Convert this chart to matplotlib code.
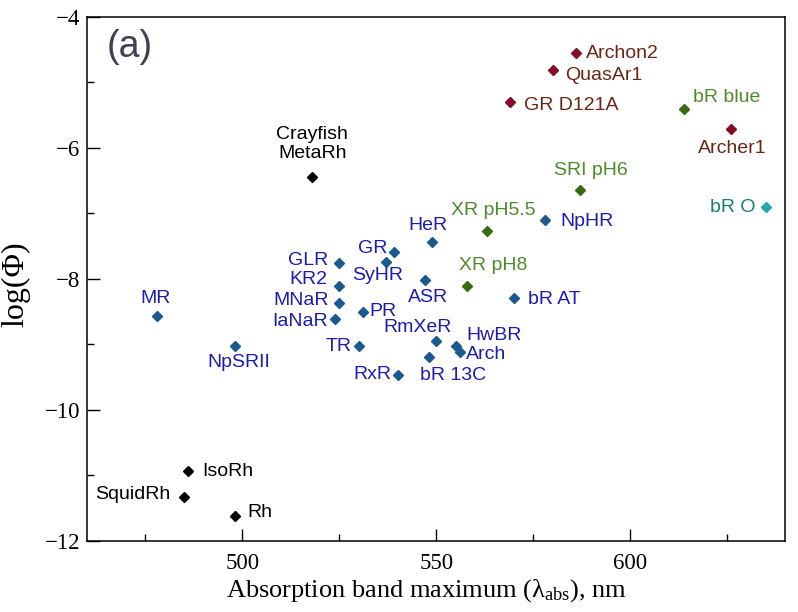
import matplotlib
matplotlib.use("Agg")
import matplotlib.pyplot as plt
from matplotlib.ticker import MultipleLocator

plt.rcParams['mathtext.fontset'] = 'custom'
plt.rcParams['mathtext.rm'] = 'Liberation Serif'
plt.rcParams['mathtext.it'] = 'Liberation Serif:italic'

# ---- data ----
names = ["Archon2", "QuasAr1", "GR D121A", "Archer1",
         "bR blue", "SRI pH6", "XR pH5.5", "XR pH8",
         "bR O",
         "NpHR", "HeR", "GR", "SyHR", "ASR", "bR AT", "GLR", "KR2", "MNaR", "IaNaR",
         "PR", "TR", "NpSRII", "RxR", "bR 13C", "RmXeR", "HwBR", "Arch", "MR",
         "Crayfish\nMetaRh", "IsoRh", "SquidRh", "Rh"]
wavelength = [586, 580, 569, 626,
              614, 587, 563, 558,
              635,
              578, 549, 539, 537, 547, 570, 525, 525, 525, 524,
              531, 530, 498, 540, 548, 550, 555, 556, 478,
              518, 486, 485, 498]
log_phi = [-4.56, -4.82, -5.30, -5.71,
           -5.41, -6.65, -7.27, -8.11,
           -6.91,
           -7.10, -7.44, -7.59, -7.75, -8.02, -8.29, -7.76, -8.11, -8.37, -8.62,
           -8.51, -9.03, -9.03, -9.47, -9.20, -8.95, -9.02, -9.12, -8.57,
           -6.44, -10.93, -11.34, -11.62]
group = ["red"] * 4 + ["green"] * 4 + ["teal"] + ["blue"] * 19 + ["black"] * 4

# label placement (offset in pixels, horizontal alignment)
label_offset = {
    "Archon2": (10, 0, "left"), "QuasAr1": (12, -5, "left"), "GR D121A": (14, -4, "left"),
    "Archer1": (1, -20, "center"), "bR blue": (9, 12, "left"), "SRI pH6": (11, 20, "center"),
    "XR pH5.5": (7, 20, "center"), "XR pH8": (26, 20, "center"), "bR O": (-10, 0, "right"),
    "NpHR": (15, -2, "left"), "HeR": (-4, 17, "center"), "GR": (-6, 3, "right"),
    "SyHR": (-8, -13, "center"), "ASR": (3, -17, "center"), "bR AT": (14, -2, "left"),
    "GLR": (-11, 2, "right"), "KR2": (-12, 6, "right"), "MNaR": (-10, 2, "right"),
    "IaNaR": (-8, -2, "right"), "PR": (7, 1, "left"), "TR": (-7, 0, "right"),
    "NpSRII": (4, -16, "center"), "RxR": (-6, 0, "right"), "bR 13C": (25, -18, "center"),
    "RmXeR": (-19, 13, "center"), "HwBR": (11, 10, "left"), "Arch": (6, -2, "left"),
    "MR": (-2, 18, "center"), "Crayfish\nMetaRh": (0, 33, "center"),
    "IsoRh": (14, -1, "left"), "SquidRh": (-14, 3, "right"), "Rh": (13, 3, "left"),
}

marker_color = {"red": "#860a26", "green": "#3b6a12", "teal": "#25a8a5",
                "blue": "#1b5a8e", "black": "#000000"}
text_color = {"red": "#6a2612", "green": "#4e8b2c", "teal": "#1a8070",
              "blue": "#1c1cb0", "black": "#000000"}

fig = plt.figure(figsize=(7.98, 6.12), dpi=100)
ax = fig.add_axes([0.1094, 0.1165, 0.8747, 0.8562])

for n, x, y, g in zip(names, wavelength, log_phi, group):
    ax.plot(x, y, marker="D", markersize=5, color=marker_color[g], linestyle="none")
    dx, dy, ha = label_offset[n]
    ax.annotate(n, (x, y), xytext=(dx, dy), textcoords="offset pixels",
                ha=ha, va="center", fontsize=14, color=text_color[g],
                family="Liberation Sans", linespacing=1.15)

ax.set_xlim(460, 640)
ax.set_ylim(-12, -4)
ax.xaxis.set_major_locator(MultipleLocator(50))
ax.xaxis.set_minor_locator(MultipleLocator(25))
ax.yaxis.set_major_locator(MultipleLocator(2))
ax.yaxis.set_minor_locator(MultipleLocator(1))
ax.tick_params(which="both", direction="in", top=False, right=False)
ax.tick_params(which="major", length=9, width=1.0)
ax.tick_params(which="minor", length=5, width=1.0)
ax.tick_params(axis="x", which="major", pad=9)
ax.tick_params(axis="y", which="major", pad=5)
for lab in ax.get_xticklabels() + ax.get_yticklabels():
    lab.set_fontfamily("Liberation Serif")
    lab.set_fontsize(16.5)
for s in ax.spines.values():
    s.set_linewidth(1.1)

ax.set_xlabel(r"Absorption band maximum ($\mathrm{\lambda_{abs}}$), nm",
              family="Liberation Serif", fontsize=19)
ax.xaxis.set_label_coords(0.486, -0.07, transform=ax.transAxes)
ax.xaxis.label.set_va("top")
ax.set_ylabel("log(Φ)", family="Liberation Serif", fontsize=23)
ax.yaxis.set_label_coords(-0.082, 0.49, transform=ax.transAxes)

ax.text(0.027, 0.942, "(a)", transform=ax.transAxes, ha="left", va="center",
        fontsize=27, color="#3c4252", family="Liberation Sans")

fig.savefig("out.png", dpi=100)
